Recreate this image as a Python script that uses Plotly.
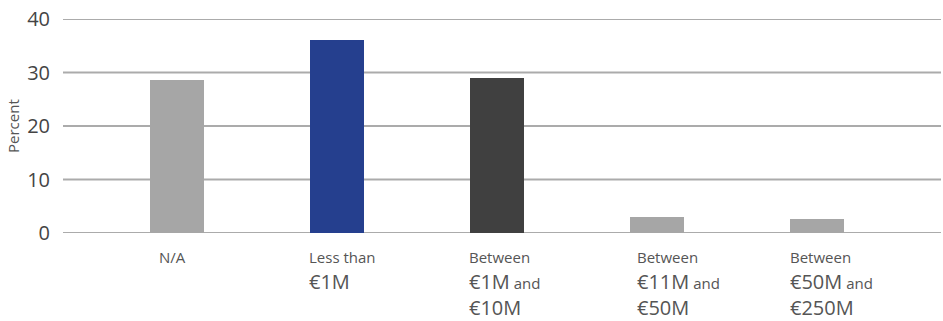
import plotly.graph_objects as go

categories = ["N/A", "Less than €1M", "Between €1M and €10M", "Between €11M and €50M", "Between €50M and €250M"]
values = [28.6, 36.1, 29.0, 2.9, 2.7]
colors = ["#A6A6A6", "#253F8E", "#404040", "#A6A6A6", "#A6A6A6"]
label_lines = [
    [("N/A", 15)],
    [("Less than", 15), ("€1M", 20)],
    [("Between", 15), ("€1M", 20), (" and", 15), ("€10M", 20)],
    [("Between", 15), ("€11M", 20), (" and", 15), ("€50M", 20)],
    [("Between", 15), ("€50M", 20), (" and", 15), ("€250M", 20)],
]
y_ticks = [0, 10, 20, 30, 40]

xs = list(range(len(categories)))

fig = go.Figure()
fig.add_trace(go.Bar(x=xs, y=values, marker=dict(color=colors, line=dict(width=0)),
                     width=0.3375, hoverinfo="skip"))

# horizontal gridlines spanning the full plot width
for t in y_ticks:
    fig.add_shape(type="line", xref="paper", yref="y", x0=0, x1=1, y0=t, y1=t,
                  line=dict(color="#ABABAB", width=2), layer="below")

def build_label(parts):
    lines = []
    for txt, size in parts:
        span = f'<span style="font-size:{size}px">{txt}</span>'
        if txt.startswith(" ") and lines:
            lines[-1] += span
        else:
            lines.append(span)
    return "<br>".join(lines)

xshifts = [-20, -30, -30, -22, -29]
for i, parts in enumerate(label_lines):
    fig.add_annotation(x=xs[i], y=0, xref="x", yref="y", text=build_label(parts),
                       xanchor="left", yanchor="top", align="left", showarrow=False,
                       xshift=xshifts[i], yshift=-12,
                       font=dict(family="Open Sans", size=20, color="#555555"))

fig.add_annotation(x=0, y=0.5, xref="paper", yref="paper", text="Percent", textangle=-90,
                   xanchor="center", yanchor="middle", showarrow=False,
                   xshift=-50, font=dict(family="Open Sans", size=15, color="#555555"))

fig.update_layout(
    width=943, height=321,
    margin=dict(l=63, r=2, t=19, b=88, autoexpand=False),
    paper_bgcolor="white", plot_bgcolor="white",
    showlegend=False, bargap=0,
    font=dict(family="Open Sans", color="#444444"),
)
fig.update_xaxes(range=[-0.7125, 4.775], showticklabels=False, showgrid=False,
                 zeroline=False, showline=False, ticks="")
fig.update_yaxes(range=[0, 40], tickvals=y_ticks, showgrid=False, zeroline=False,
                 showline=False, ticks="outside", ticklen=8, tickcolor="rgba(0,0,0,0)",
                 tickfont=dict(family="Open Sans", size=20, color="#444444"))

fig.write_html("out.html", config={"displayModeBar": False})
